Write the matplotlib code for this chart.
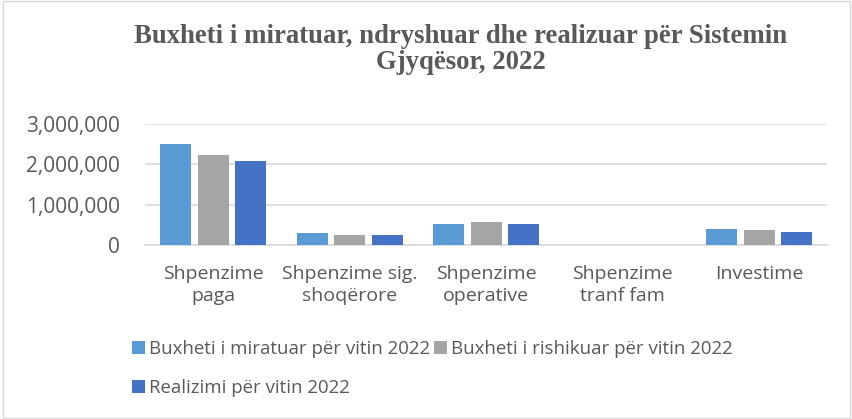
import numpy as np
import matplotlib.pyplot as plt
from matplotlib.patches import Rectangle
from matplotlib.ticker import FuncFormatter

categories = ["Shpenzime\npaga", "Shpenzime sig.\nshoqërore", "Shpenzime\noperative",
              "Shpenzime\ntranf fam", "Investime"]
series_names = ["Buxheti i miratuar për vitin 2022", "Buxheti i rishikuar për vitin 2022",
                "Realizimi për vitin 2022"]
miratuar = [2490000, 290000, 520000, 8000, 400000]
rishikuar = [2220000, 250000, 570000, 8000, 370000]
realizimi = [2070000, 250000, 520000, 8000, 320000]
colors = ["#5b9bd5", "#a5a5a5", "#4472c4"]

fig = plt.figure(figsize=(8.53, 4.19), dpi=100)
fig.patches.append(Rectangle((0.003, 0.003), 0.994, 0.994, transform=fig.transFigure,
                             fill=False, edgecolor="#d9d9d9", linewidth=1))
ax = fig.add_axes([0.170, 0.415, 0.800, 0.29])

x = np.arange(len(categories))
w = 0.227
gap = 0.275
handles = []
for i, (vals, name) in enumerate(zip([miratuar, rishikuar, realizimi], series_names)):
    b = ax.bar(x + (i - 1) * gap, vals, w, color=colors[i], label=name, zorder=3)
    handles.append(b)

ax.set_ylim(0, 3000000)
ax.set_xlim(-0.5, 4.5)
ax.set_yticks([0, 1000000, 2000000, 3000000])
ax.yaxis.set_major_formatter(FuncFormatter(lambda v, p: f"{int(v):,}"))
ax.grid(axis="y", color="#d9d9d9", linewidth=1.2, zorder=0)
ax.set_xticks(x)
ax.set_xticklabels(categories, fontsize=14, color="#595959", family="Open Sans", linespacing=1.3)
for lab in ax.get_yticklabels():
    lab.set_fontsize(15)
    lab.set_color("#595959")
    lab.set_family("Open Sans")
ax.tick_params(axis="y", length=0, pad=18)
ax.tick_params(axis="x", length=0, pad=14)
for s in ["top", "right", "left"]:
    ax.spines[s].set_visible(False)
ax.spines["bottom"].set_color("#d9d9d9")
ax.spines["bottom"].set_linewidth(1.2)

fig.text(0.54, 0.881, "Buxheti i miratuar, ndryshuar dhe realizuar për Sistemin\nGjyqësor, 2022",
         ha="center", va="center", fontsize=19.3, fontweight="bold", color="#595959",
         family="Liberation Serif", linespacing=1.05)

order = [handles[0], handles[2], handles[1]]
leg = fig.legend(order, [series_names[0], series_names[2], series_names[1]],
                 loc="upper left", bbox_to_anchor=(0.135, 0.228), ncol=2, frameon=False,
                 prop={"family": "Open Sans", "size": 13.4}, handlelength=0.7, handleheight=0.7,
                 handletextpad=0.2, columnspacing=0.25, labelspacing=1.12, labelcolor="#595959")

fig.savefig("out.png", dpi=100)
